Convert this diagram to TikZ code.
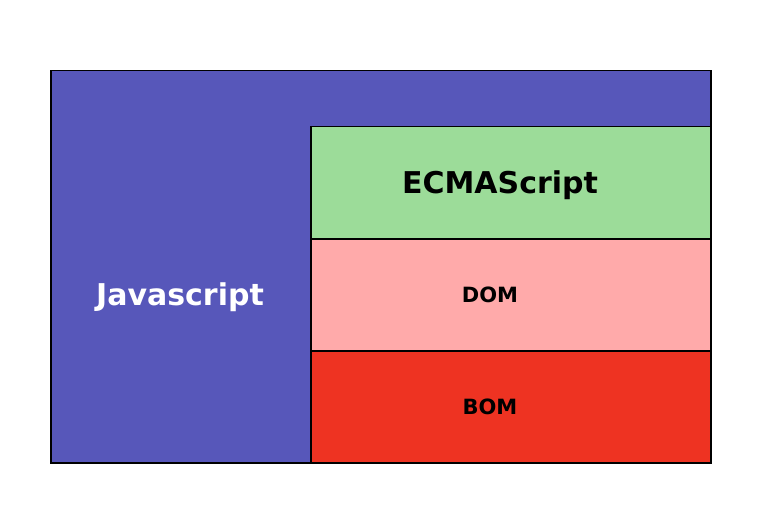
\documentclass[tikz,border=0pt]{standalone}
\usepackage{fontspec}
\setmainfont{DejaVu Sans}
\usetikzlibrary{positioning}
\definecolor{JsBlue}{HTML}{5757BA}
\definecolor{EsGreen}{HTML}{9CDC99}
\definecolor{DomPink}{HTML}{FFAAAA}
\definecolor{BomRed}{HTML}{EE3322}

\begin{document}
\begin{tikzpicture}[
  x=1pt,y=-1pt,
  layer/.style={draw=black,line width=1.5pt,minimum width=400pt,minimum height=112pt,inner sep=0pt,anchor=north west},
  big/.style={font=\fontsize{30}{36}\selectfont\bfseries},
  small/.style={font=\fontsize{21}{25}\selectfont\bfseries}
]
\useasboundingbox (0,0) rectangle (760,532);
\node[layer,fill=JsBlue,minimum width=660pt,minimum height=392pt] (js) at (50,70) {};
\node[layer,fill=EsGreen] (es) at (310,126) {};
\node[layer,fill=DomPink] (dom) at (310,238) {};
\node[layer,fill=BomRed] (bom) at (310,350) {};

\node[big,text=white] (jslabel) at (180,297) {Javascript};
\node[big] (eslabel) at (500,185) {ECMAScript};
\node[small] (domlabel) at (490,295) {DOM};
\node[small] (bomlabel) at (490,407) {BOM};
\end{tikzpicture}
\end{document}
